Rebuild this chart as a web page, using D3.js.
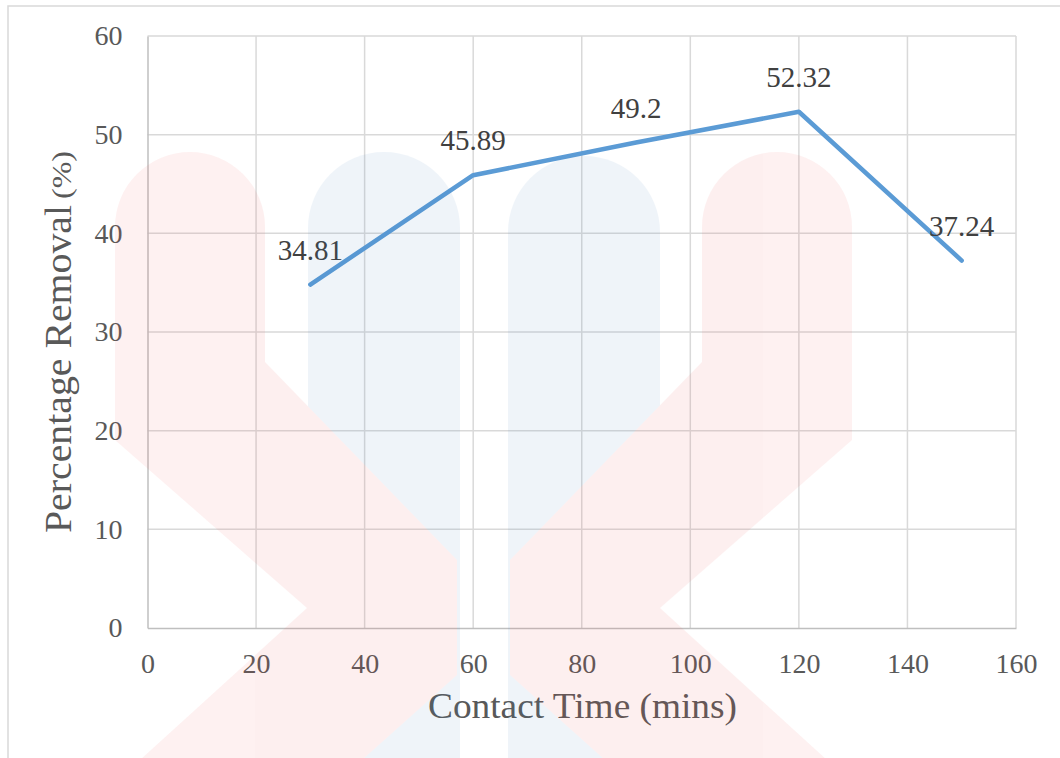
<!DOCTYPE html>
<html>
<head>
<meta charset="utf-8">
<script src="https://cdn.jsdelivr.net/npm/d3@7"></script>
<style>
  html, body { margin: 0; padding: 0; background: #ffffff; }
  svg { display: block; }
</style>
</head>
<body>
<svg id="chart" width="1060" height="758"></svg>
<script>
// Contact time (minutes) and percentage removal
const contactTime = [30, 60, 90, 120, 150];
const removal = [34.81, 45.89, 49.2, 52.32, 37.24];
const labelText = ["34.81", "45.89", "49.2", "52.32", "37.24"];
const xTicks = [0, 20, 40, 60, 80, 100, 120, 140, 160];
const yTicks = [0, 10, 20, 30, 40, 50, 60];

const W = 1060, H = 758;
const svg = d3.select("#chart");
const FONT = "Liberation Serif";

const x = d3.scaleLinear().domain([0, 160]).range([147.5, 1016]);
const y = d3.scaleLinear().domain([0, 60]).range([628, 36]);

// chart frame
svg.append("rect")
  .attr("x", 8).attr("y", 6)
  .attr("width", W + 20).attr("height", H + 20)
  .attr("fill", "#ffffff")
  .attr("stroke", "#d9d9d9").attr("stroke-width", 1.5);

// gridlines
const grid = svg.append("g");
grid.selectAll("line.h").data(yTicks.filter(d => d > 0)).join("line")
  .attr("x1", x(0)).attr("x2", x(160))
  .attr("y1", d => y(d)).attr("y2", d => y(d))
  .attr("stroke", "#d9d9d9").attr("stroke-width", 1.5);
grid.selectAll("line.v").data(xTicks.filter(d => d > 0)).join("line")
  .attr("y1", y(0)).attr("y2", y(60))
  .attr("x1", d => x(d)).attr("x2", d => x(d))
  .attr("stroke", "#d9d9d9").attr("stroke-width", 1.5);

// axes
const yAxis = d3.axisLeft(y).tickValues(yTicks).tickSize(0).tickPadding(25);
const xAxis = d3.axisBottom(x).tickValues(xTicks).tickSize(0).tickPadding(25);

const gy = svg.append("g").attr("transform", `translate(${x(0)},0)`).call(yAxis);
const gx = svg.append("g").attr("transform", `translate(0,${y(0)})`).call(xAxis);
[gx, gy].forEach(g => {
  g.attr("font-family", FONT).attr("font-size", 28);
  g.select(".domain").attr("stroke", "#bfbfbf").attr("stroke-width", 1.5);
  g.selectAll("text")
    .attr("font-family", FONT)
    .attr("font-size", 28)
    .attr("fill", "#595959");
});

// series line
const line = d3.line().x((d, i) => x(contactTime[i])).y(d => y(d));
svg.append("path")
  .datum(removal)
  .attr("d", line)
  .attr("fill", "none")
  .attr("stroke", "#5b9bd5")
  .attr("stroke-width", 4.5)
  .attr("stroke-linejoin", "round")
  .attr("stroke-linecap", "round");

// data labels
svg.append("g").selectAll("text").data(removal).join("text")
  .attr("x", (d, i) => x(contactTime[i]))
  .attr("y", d => y(d) - 25)
  .attr("text-anchor", "middle")
  .attr("font-family", FONT)
  .attr("font-size", 29)
  .attr("fill", "#404040")
  .text((d, i) => labelText[i]);

// axis titles
svg.append("text")
  .attr("x", 428).attr("y", 718)
  .attr("font-family", FONT)
  .attr("font-size", 35)
  .attr("textLength", 309)
  .attr("lengthAdjust", "spacingAndGlyphs")
  .attr("fill", "#595959")
  .text("Contact Time (mins)");

svg.append("text")
  .attr("transform", "translate(71,533) rotate(-90)")
  .attr("font-family", FONT)
  .attr("font-size", 37)
  .attr("textLength", 328)
  .attr("lengthAdjust", "spacingAndGlyphs")
  .attr("fill", "#595959")
  .text("Percentage Removal");
svg.append("text")
  .attr("transform", "translate(71,199) rotate(-90)")
  .attr("font-family", FONT)
  .attr("font-size", 27)
  .attr("textLength", 48)
  .attr("lengthAdjust", "spacingAndGlyphs")
  .attr("fill", "#595959")
  .text("(%)");

// faint background emblem: blue columns beneath pink chevrons, faded as one layer
const emblem = svg.append("g").attr("pointer-events", "none").attr("opacity", 0.08);
emblem.append("path").attr("fill", "#3f7fc0")
  .attr("d", "M308,228 A76,76 0 0 1 460,228 L460,760 L308,760 Z");
emblem.append("path").attr("fill", "#3f7fc0")
  .attr("d", "M508,232 A76,76 0 0 1 660,232 L660,760 L508,760 Z");
emblem.append("path").attr("fill", "#f04848")
  .attr("d", "M115,227 A75,75 0 0 1 265,227 L265,362 L457,560 L457,675 L362,760 L140,760 L307,608 L115,440 Z");
emblem.append("path").attr("fill", "#f04848")
  .attr("d", "M852,227 A75,75 0 0 0 702,227 L702,362 L510,560 L510,675 L605,760 L827,760 L660,608 L852,440 Z");
</script>
</body>
</html>
